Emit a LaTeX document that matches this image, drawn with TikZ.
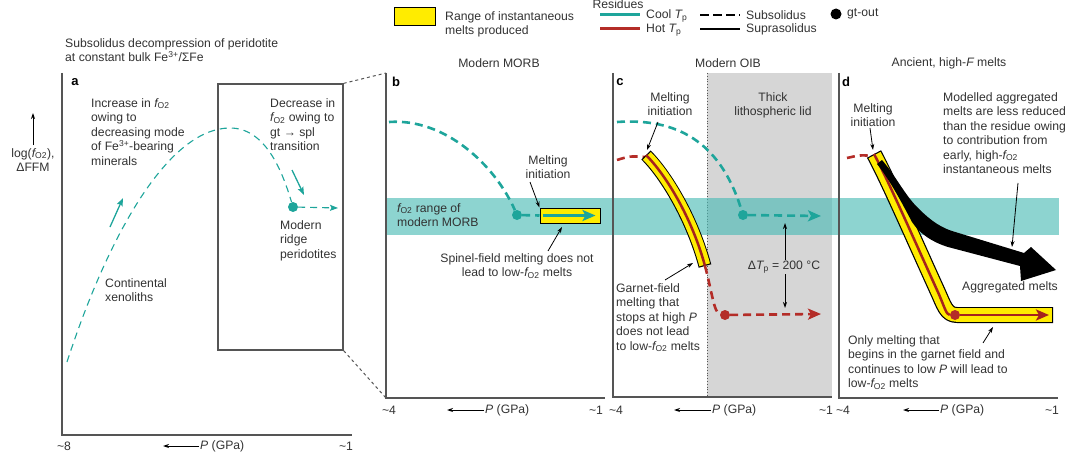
\documentclass[tikz,border=0pt]{standalone}
\usepackage{fontspec}
\setmainfont{Liberation Sans}
\usetikzlibrary{positioning,arrows.meta}
\definecolor{CoolTeal}{RGB}{30,165,155}
\definecolor{HotRed}{RGB}{180,45,40}
\definecolor{MeltRed}{RGB}{165,35,30}
\definecolor{MeltYellow}{RGB}{255,236,0}
\definecolor{BandTeal}{RGB}{74,187,181}
\definecolor{LidGray}{RGB}{214,214,214}
\definecolor{AxisGray}{RGB}{85,85,85}
\definecolor{TextGray}{RGB}{50,50,50}

\begin{document}
\begin{tikzpicture}[
    x=1pt, y=-1pt,
    font=\fontsize{12.2}{14.5}\selectfont,
    txt/.style={inner sep=1pt, text=TextGray, align=left},
    ctxt/.style={inner sep=1pt, text=TextGray, align=center},
    panellbl/.style={inner sep=0pt, font=\fontsize{13}{14}\selectfont\bfseries},
    axisline/.style={draw=AxisGray, line width=1.5pt},
    zoomline/.style={draw=AxisGray, line width=1pt, dash pattern=on 3pt off 3pt},
    finedash/.style={draw=CoolTeal, line width=1.1pt, dash pattern=on 7pt off 5pt},
    cooldash/.style={draw=CoolTeal, line width=2.6pt, dash pattern=on 8pt off 5pt},
    hotdash/.style={draw=HotRed, line width=2.6pt, dash pattern=on 8pt off 5pt},
    bigtip/.style={-{Stealth[length=13pt,width=11pt,inset=3pt]}},
    smalltip/.style={-{Stealth[length=8pt,width=6pt,inset=1.5pt]}},
    pointer/.style={-{Stealth[length=6pt,width=4pt]}, draw=black, line width=0.8pt},
    paxis/.style={-{Stealth[length=6pt,width=4pt]}, draw=black, line width=1pt},
    tealdot/.style={circle, fill=CoolTeal, inner sep=0pt, minimum size=10pt},
    reddot/.style={circle, fill=HotRed, inner sep=0pt, minimum size=10pt},
    meltedge/.style={draw=black, line width=13pt},
    meltfill/.style={draw=MeltYellow, line width=11pt, shorten <=1.2pt, shorten >=1.2pt},
    meltcore/.style={draw=MeltRed, line width=2.5pt}
]
\useasboundingbox (0,0) rectangle (1080,460);

% legend
\node[draw=black, line width=1pt, fill=MeltYellow, minimum width=41pt, minimum height=18pt, inner sep=0pt] (lgbox) at (414.5,17) {};
\node[txt, anchor=north west] (lgtext) at (444,10) {Range of instantaneous\\melts produced};
\node[ctxt] (lgres) at (618,4) {Residues};
\draw[CoolTeal, line width=3pt] (600,15) -- (640,15);
\draw[HotRed, line width=3pt] (600,29) -- (640,29);
\node[txt, anchor=west] (lgcool) at (645,16) {Cool {\itshape T}\textsubscript{p}};
\node[txt, anchor=west] (lghot) at (645,30) {Hot {\itshape T}\textsubscript{p}};
\draw[black, line width=2.6pt, dash pattern=on 9pt off 4pt] (700,15) -- (740,15);
\draw[black, line width=2.6pt] (700,29) -- (740,29);
\node[txt, anchor=west] (lgsub) at (745,15) {Subsolidus};
\node[txt, anchor=west] (lgsup) at (745,29) {Suprasolidus};
\node[circle, fill=black, inner sep=0pt, minimum size=11pt] (lgdot) at (836,14) {};
\node[txt, anchor=west] (lggt) at (846,14) {gt-out};

% panel a
\node[txt, anchor=north west] (atitle) at (64,37) {Subsolidus decompression of peridotite\\at constant bulk Fe\textsuperscript{3+}/ΣFe};
\draw[axisline] (62,73) -- (62,435) -- (352,435);
\node[panellbl] (la) at (75,82) {a};
\node[ctxt, anchor=north, inner sep=3pt] (ylab) at (33,145) {log({\itshape f}\textsubscript{O2}),\\ΔFFM};
\coordinate (ytip) at (33,113);
\draw[paxis] (ylab.north) -- (ytip);
\node[draw=AxisGray, line width=1.3pt, minimum width=125pt, minimum height=266pt, inner sep=0pt] (zoombox) at (280.5,217) {};
\node[txt, anchor=north west] (aup) at (90,97) {Increase in {\itshape f}\textsubscript{O2}\\owing to\\decreasing mode\\of Fe\textsuperscript{3+}-bearing\\minerals};
\node[txt, anchor=north west] (adown) at (269,97) {Decrease in\\{\itshape f}\textsubscript{O2} owing to\\gt → spl\\transition};
\node[txt, anchor=north west] (aridge) at (279,219) {Modern\\ridge\\peridotites};
\node[txt, anchor=north west] (axeno) at (104,277) {Continental\\xenoliths};
\node[tealdot] (adot) at (293,207) {};
\coordinate (aend) at (338,208);
\draw[finedash] (67,362) .. controls (110,230) and (170,128) .. (230,128)
    .. controls (265,128) and (282,170) .. (adot);
\draw[finedash, smalltip] (adot) -- (aend);
\draw[CoolTeal, line width=1.3pt, smalltip] (110,227) -- (123,198);
\draw[CoolTeal, line width=1.3pt, smalltip] (292,170) -- (304,195);
\node[txt] (amax) at (64,446) {\textasciitilde 8};
\node[txt] (amin) at (346,446) {\textasciitilde 1};
\node[txt, anchor=west] (ap) at (199,446) {{\itshape P} (GPa)};
\coordinate (aparr) at (163,446);
\draw[paxis] (ap.west) -- (aparr);

% zoom lines a -> b
\coordinate (btop) at (386,73);
\coordinate (bbot) at (386,398);
\draw[zoomline] (zoombox.north east) -- (btop);
\draw[zoomline] (zoombox.south east) -- (bbot);

% lithospheric lid and fO2 band
\fill[LidGray] (707,73) rectangle (832,397);
\draw[AxisGray, line width=0.8pt, dotted] (707,73) -- (707,397);
\fill[BandTeal, opacity=0.63] (386,198) rectangle (1059,235);

% panel b
\node[ctxt] (tb) at (499,63) {Modern MORB};
\draw[axisline] (btop) -- (bbot) -- (605,398);
\node[panellbl] (lb) at (396,82) {b};
\node[txt, anchor=north west] (bband) at (396,202) {{\itshape f}\textsubscript{O2} range of\\modern MORB};
\node[tealdot] (bdot) at (517,215) {};
\draw[cooldash] (389,122) .. controls (445,118) and (495,165) .. (bdot);
\node[draw=black, line width=1pt, fill=MeltYellow, minimum width=60pt, minimum height=15pt, inner sep=0pt] (bmelt) at (570,215.5) {};
\draw[cooldash] (bdot) -- (bmelt.west);
\draw[CoolTeal, line width=2.6pt, bigtip] ([xshift=3pt]bmelt.west) -- ([xshift=-5pt]bmelt.east);
\node[ctxt, anchor=north] (bmi) at (548,154) {Melting\\initiation};
\coordinate (bp1) at (530,182);
\draw[pointer] (bp1) -- (bmelt.north west);
\node[ctxt, anchor=north] (bspin) at (517,252) {Spinel-field melting does not\\lead to low-{\itshape f}\textsubscript{O2} melts};
\coordinate (bp2) at (548,251);
\coordinate (bp3) at (562,227);
\draw[pointer] (bp2) -- (bp3);
\node[txt] (bmax) at (389,410) {\textasciitilde 4};
\node[txt] (bmin) at (596,410) {\textasciitilde 1};
\node[txt, anchor=west] (bp) at (484,410) {{\itshape P} (GPa)};
\coordinate (bparr) at (447,410);
\draw[paxis] (bp.west) -- (bparr);

% panel c
\node[ctxt] (tc) at (728,63) {Modern OIB};
\draw[axisline] (613,73) -- (613,397) -- (832,397);
\node[panellbl] (lc) at (620,82) {c};
\node[ctxt, anchor=north] (cmi) at (670,91) {Melting\\initiation};
\node[ctxt, anchor=north] (clid) at (773,91) {Thick\\lithospheric lid};
\node[tealdot] (cdot) at (743,215) {};
\coordinate (cend) at (821,216);
\draw[cooldash] (617,122) .. controls (675,118) and (720,140) .. (cdot);
\draw[cooldash, bigtip] (cdot) -- (cend);
\draw[hotdash] (617,160) .. controls (630,156) .. (646,157);
\draw[meltedge] (646,155) .. controls (666,175) and (692,218) .. (705,266);
\draw[meltfill] (646,155) .. controls (666,175) and (692,218) .. (705,266);
\draw[meltcore] (646,155) .. controls (666,175) and (692,218) .. (705,266);
\node[reddot] (cdot2) at (725,315) {};
\coordinate (cend2) at (821,314);
\draw[hotdash] (705,266) .. controls (712,292) and (714,313) .. (cdot2);
\draw[hotdash, bigtip] (cdot2) -- (cend2);
\coordinate (cp1) at (658,122);
\coordinate (cp2) at (647,150);
\draw[pointer] (cp1) -- (cp2);
\node[ctxt] (cdt) at (784,267) {Δ{\itshape T}\textsubscript{p} = 200 °C};
\coordinate (cup) at (785,223);
\coordinate (cdown) at (785,308);
\draw[pointer] (cdt.north -| cup) -- (cup);
\draw[pointer] (cdt.south -| cdown) -- (cdown);
\node[txt, anchor=north west] (cgt) at (615,282) {Garnet-field\\melting that\\stops at high {\itshape P}\\does not lead\\to low-{\itshape f}\textsubscript{O2} melts};
\coordinate (cp3) at (665,280);
\coordinate (cp4) at (693,263);
\draw[pointer] (cp3) -- (cp4);
\node[txt] (cmax) at (616,410) {\textasciitilde 4};
\node[txt] (cmin) at (826,410) {\textasciitilde 1};
\node[txt, anchor=west] (cp) at (711,410) {{\itshape P} (GPa)};
\coordinate (cparr) at (674,410);
\draw[paxis] (cp.west) -- (cparr);

% panel d
\node[ctxt] (td) at (949,63) {Ancient, high-{\itshape F} melts};
\draw[axisline] (839,73) -- (839,398) -- (1058,398);
\node[panellbl] (ld) at (846,82) {d};
\node[ctxt, anchor=north] (dmi) at (873,102) {Melting\\initiation};
\draw[hotdash] (847,158) .. controls (860,155) .. (874,156);
\draw[black, line width=16pt, line join=round] (874,154) .. controls (888,180) and (912,235) .. (937,290)
    .. controls (944,305) and (946,315) .. (957,315) -- (1053,315);
\draw[MeltYellow, line width=13.6pt, line join=round, shorten <=1.2pt, shorten >=1.2pt] (874,154) .. controls (888,180) and (912,235) .. (937,290)
    .. controls (944,305) and (946,315) .. (957,315) -- (1053,315);
\node[reddot] (ddot) at (955,315) {};
\coordinate (dend) at (1049,315);
\draw[meltcore] (874,154) .. controls (888,180) and (912,235) .. (937,290)
    .. controls (944,305) and (946,315) .. (ddot);
\draw[MeltRed, line width=2.5pt, bigtip] (ddot) -- (dend);
% aggregated melts
\fill[black] (882,160) .. controls (895,175) and (905,195) .. (917,207)
    .. controls (927,217) and (937,226) .. (952,231) -- (1024,253) -- (1031,247)
    -- (1056,270) -- (1021,281) -- (1020,266) -- (948,247)
    .. controls (932,242) and (920,234) .. (912,222)
    .. controls (903,205) and (890,180) .. (877,164) -- cycle;
\coordinate (dp1) at (870,128);
\coordinate (dp2) at (873,150);
\draw[pointer] (dp1) -- (dp2);
\node[txt, anchor=north west] (dmod) at (942,91) {Modelled aggregated\\melts are less reduced\\than the residue owing\\to contribution from\\early, high-{\itshape f}\textsubscript{O2}\\instantaneous melts};
\coordinate (dp3) at (1018,183);
\coordinate (dp4) at (1012,247);
\draw[pointer] (dp3) -- (dp4);
\node[txt, anchor=west] (dagg) at (961,287) {Aggregated melts};
\node[txt, anchor=north west] (donly) at (847,334) {Only melting that\\begins in the garnet field and\\continues to low {\itshape P} will lead to\\low-{\itshape f}\textsubscript{O2} melts};
\coordinate (dp5) at (983,343);
\coordinate (dp6) at (993,327);
\draw[pointer] (dp5) -- (dp6);
\node[txt] (dmax) at (843,410) {\textasciitilde 4};
\node[txt] (dmin) at (1052,410) {\textasciitilde 1};
\node[txt, anchor=west] (dp) at (939,410) {{\itshape P} (GPa)};
\coordinate (dparr) at (903,410);
\draw[paxis] (dp.west) -- (dparr);

\end{tikzpicture}
\end{document}
